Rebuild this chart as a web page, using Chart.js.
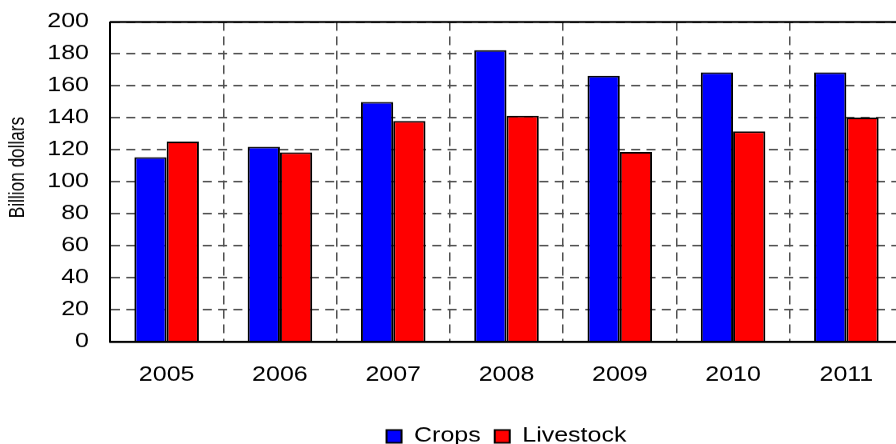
<!DOCTYPE html>
<html>
<head>
<meta charset="utf-8">
<script src="https://cdn.jsdelivr.net/npm/chart.js@4/dist/chart.umd.min.js"></script>
<style>
  html, body { margin: 0; padding: 0; width: 896px; height: 444px; overflow: hidden; background: #fff; }
  #wrap { position: absolute; left: 0; top: 0; width: 903px; height: 568px; transform: scaleY(0.8); transform-origin: 0 0; }
  #chart { display: block; width: 903px; height: 568px; }
</style>
</head>
<body>
<div id="wrap"><canvas id="chart" width="903" height="568"></canvas></div>
<script>
// Farm cash receipts by commodity group, billion dollars
const years = ['2005', '2006', '2007', '2008', '2009', '2010', '2011'];
const crops = [115.4, 122, 150, 182.3, 166.3, 168.5, 168.5];
const livestock = [125.2, 118.5, 138.1, 141.3, 118.7, 131.6, 140.2];
const yAxisTitle = 'Billion dollars';

const FONT = "'Liberation Sans', Arial, sans-serif";

// Solid frame around the plot area
const framePlugin = {
  id: 'frame',
  afterDatasetsDraw(chart) {
    const { ctx, chartArea: a } = chart;
    ctx.save();
    ctx.strokeStyle = '#000';
    ctx.lineWidth = 2.5;
    ctx.beginPath();
    ctx.moveTo(a.left, a.top); ctx.lineTo(a.right, a.top);
    ctx.moveTo(a.left, a.bottom); ctx.lineTo(a.right, a.bottom);
    ctx.stroke();
    ctx.lineWidth = 2;
    ctx.beginPath();
    ctx.moveTo(a.left, a.top); ctx.lineTo(a.left, a.bottom);
    ctx.moveTo(a.right, a.top); ctx.lineTo(a.right, a.bottom);
    ctx.stroke();
    ctx.restore();
  }
};

// Rotated y-axis title
const yTitlePlugin = {
  id: 'yTitle',
  afterDraw(chart) {
    const { ctx, chartArea: a } = chart;
    ctx.save();
    ctx.translate(23.5, (a.top + a.bottom) / 2 - 18);
    ctx.rotate(-Math.PI / 2);
    ctx.font = "21.5px " + FONT;
    ctx.fillStyle = '#000';
    ctx.textAlign = 'center';
    ctx.textBaseline = 'alphabetic';
    ctx.fillText(yAxisTitle, 0, 0);
    ctx.restore();
  }
};

new Chart(document.getElementById('chart'), {
  type: 'bar',
  data: {
    labels: years,
    datasets: [
      { label: 'Crops', data: crops, backgroundColor: '#0000ff', borderColor: '#000', borderWidth: 2 },
      { label: 'Livestock', data: livestock, backgroundColor: '#ff0000', borderColor: '#000', borderWidth: 2 }
    ]
  },
  options: {
    responsive: false,
    maintainAspectRatio: false,
    devicePixelRatio: 1,
    animation: false,
    layout: { padding: { top: 27.5, left: 0, right: 0, bottom: 0 } },
    datasets: { bar: { categoryPercentage: 0.57, barPercentage: 1.0 } },
    scales: {
      x: {
        grid: { offset: true, color: '#505050', lineWidth: 1.5, drawTicks: false },
        border: { display: true, color: '#000', width: 2.5, dash: [11, 7] },
        ticks: { color: '#000', font: { family: FONT, size: 25 }, padding: 27, maxRotation: 0 },
        afterFit(scale) { scale.height = 91.8; scale.paddingLeft = 0; scale.paddingRight = 0; }
      },
      y: {
        min: 0, max: 200,
        grid: { color: '#505050', lineWidth: 2, drawTicks: false },
        border: { display: true, color: '#000', width: 2, dash: [9, 6.3] },
        ticks: { stepSize: 20, color: '#000', font: { family: FONT, size: 25 }, padding: 21 },
        afterFit(scale) { scale.width = 110; scale.paddingTop = 0; scale.paddingBottom = 0; }
      }
    },
    plugins: {
      legend: {
        position: 'bottom',
        fullSize: false,
        labels: {
          color: '#000',
          font: { family: FONT, size: 25 },
          boxWidth: 15,
          boxHeight: 16,
          padding: 14
        }
      },
      tooltip: { enabled: false }
    }
  },
  plugins: [framePlugin, yTitlePlugin]
});
</script>
</body>
</html>
